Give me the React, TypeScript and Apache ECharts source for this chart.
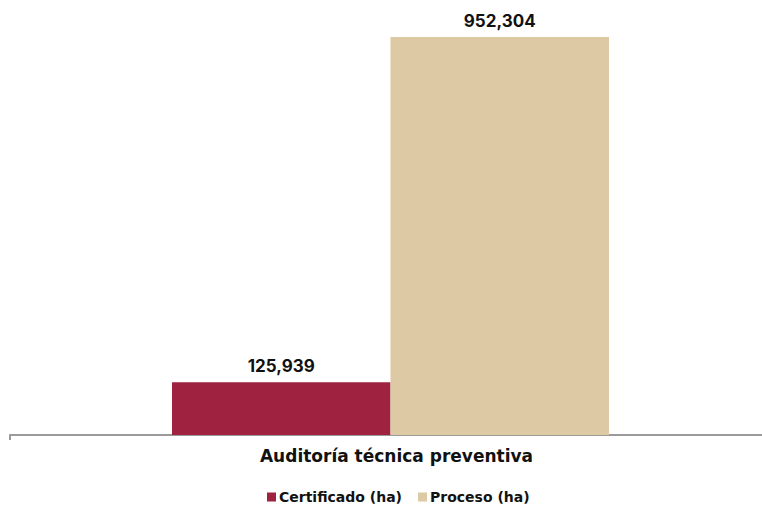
import React, { useEffect, useRef } from "react";
import * as echarts from "echarts";

const categories = ["Auditoría técnica preventiva"];
const certificado = [125939];
const proceso = [952304];
const seriesNames = ["Certificado (ha)", "Proceso (ha)"];
const colors = ["#9F2241", "#DDC9A3"];

export default function App() {
  const ref = useRef<HTMLDivElement>(null);
  useEffect(() => {
    const chart = echarts.init(ref.current!, null, { renderer: "svg" });
    const font = "Inter, 'Open Sans', sans-serif";
    const wide = "'DejaVu Sans', Verdana, sans-serif";
    const label = {
      show: true,
      position: "top",
      distance: 8,
      color: "#111",
      fontFamily: font,
      fontWeight: "bold",
      fontSize: 17,
      formatter: (p: any) => p.value.toLocaleString("en-US"),
    };
    chart.setOption({
      animation: false,
      grid: { left: 10, width: 761, top: 37, bottom: 75, outerBoundsMode: "none", containLabel: false },
      legend: {
        bottom: 1,
        left: 262,
        itemWidth: 9,
        itemHeight: 9,
        itemGap: 16,
        icon: "rect",
        textStyle: { fontFamily: wide, fontWeight: "bold", fontSize: 14, color: "#111", padding: [0, 0, 0, -2] },
        data: seriesNames,
      },
      xAxis: {
        type: "category",
        data: categories,
        axisLine: { lineStyle: { color: "#9a9a9a", width: 2 } },
        axisTick: { show: true, alignWithLabel: false, length: 5, lineStyle: { color: "#9a9a9a", width: 2 } },
        axisLabel: { fontFamily: wide, fontWeight: "bold", fontSize: 17, color: "#111", margin: 12, padding: [0, 0, 0, 12] },
      },
      yAxis: { type: "value", show: false, min: 0, max: "dataMax", splitLine: { show: false } },
      series: [
        { name: seriesNames[0], type: "bar", data: certificado, barWidth: 218.5, barGap: "0%", itemStyle: { color: colors[0] }, label },
        { name: seriesNames[1], type: "bar", data: proceso, barWidth: 218.5, barGap: "0%", itemStyle: { color: colors[1] }, label },
      ],
    });
    return () => chart.dispose();
  }, []);
  return <div ref={ref} style={{ width: 762, height: 510, position: "absolute", left: 0, top: 0 }} />;
}
